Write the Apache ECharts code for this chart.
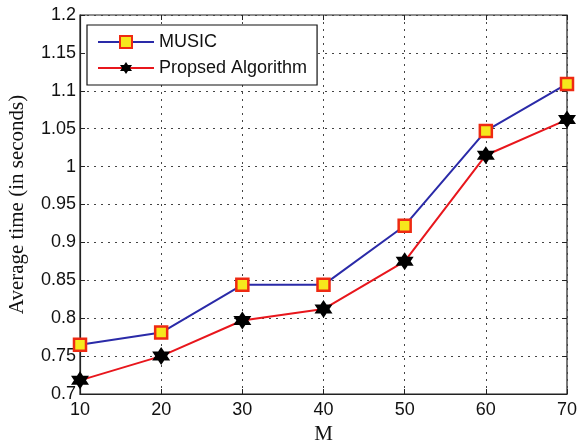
<!DOCTYPE html>
<html>
<head>
<meta charset="utf-8">
<script src="https://cdn.jsdelivr.net/npm/echarts@6/dist/echarts.min.js"></script>
<style>
  html, body { margin: 0; padding: 0; background: #fff; }
  #chart { width: 585px; height: 443px; }
</style>
</head>
<body>
<div id="chart"></div>
<script>
// valores
const mValues = ['10', '20', '30', '40', '50', '60', '70'];
const musicTimes = [0.765, 0.781, 0.844, 0.844, 0.922, 1.047, 1.109];
const proposedTimes = [0.718, 0.750, 0.797, 0.812, 0.875, 1.015, 1.062];

// estrella de seis puntas
const hexStar = 'path://M0,-10 L2.89,-5 L8.66,-5 L5.77,0 L8.66,5 L2.89,5 L0,10 L-2.89,5 L-8.66,5 L-5.77,0 L-8.66,-5 L-2.89,-5 Z';

const chart = echarts.init(document.getElementById('chart'));

const tickFont = { color: '#111', fontFamily: 'Liberation Sans', fontSize: 18 };

const option = {
  backgroundColor: '#fff',
  animation: false,
  grid: {
    left: 80, right: 18, top: 15, bottom: 49,
    outerBoundsMode: 'none',
    containLabel: false,
    show: true, borderColor: '#222', borderWidth: 1.2
  },
  legend: {
    left: 87, top: 25,
    orient: 'vertical',
    backgroundColor: '#fff',
    borderColor: '#111',
    borderWidth: 1.2,
    borderRadius: 0,
    padding: [8, 10, 8, 10],
    itemWidth: 56,
    itemHeight: 15,
    itemGap: 8,
    textStyle: { color: '#111', fontFamily: 'Liberation Sans', fontSize: 18 },
    data: ['MUSIC', 'Propsed Algorithm']
  },
  xAxis: [{
    type: 'category',
    data: mValues,
    boundaryGap: false,
    name: 'M',
    nameLocation: 'middle',
    nameGap: 28,
    nameTextStyle: { color: '#111', fontFamily: 'Liberation Serif', fontSize: 21 },
    axisLine: { lineStyle: { color: '#222', width: 1.2 } },
    axisTick: { inside: true, length: 5, lineStyle: { color: '#222' } },
    axisLabel: Object.assign({ margin: 7 }, tickFont),
    splitLine: { show: true, lineStyle: { type: [2, 5], color: '#444', width: 1 } }
  }, {
    type: 'category',
    data: mValues,
    boundaryGap: false,
    position: 'top',
    axisLine: { show: false },
    axisTick: { inside: true, length: 5, lineStyle: { color: '#222' } },
    axisLabel: { show: false }
  }],
  yAxis: [{
    type: 'value',
    min: 0.7, max: 1.2, interval: 0.05,
    name: 'Average time (in seconds)',
    nameLocation: 'middle',
    nameGap: 52,
    nameTextStyle: { color: '#111', fontFamily: 'Liberation Serif', fontSize: 21 },
    axisLine: { show: true, lineStyle: { color: '#222', width: 1.2 } },
    axisTick: { show: true, inside: true, length: 5, lineStyle: { color: '#222' } },
    axisLabel: Object.assign({
      margin: 4,
      formatter: v => String(parseFloat(v.toFixed(2)))
    }, tickFont),
    splitLine: { show: true, lineStyle: { type: [2, 5], color: '#444', width: 1 } }
  }, {
    type: 'value',
    min: 0.7, max: 1.2, interval: 0.05,
    position: 'right',
    axisLine: { show: false },
    axisTick: { show: true, inside: true, length: 5, lineStyle: { color: '#222' } },
    axisLabel: { show: false },
    splitLine: { show: false }
  }],
  series: [
    {
      name: 'MUSIC',
      type: 'line',
      data: musicTimes,
      symbol: 'rect',
      symbolSize: 12,
      lineStyle: { color: '#2a2aa8', width: 2 },
      itemStyle: { color: '#f6e81c', borderColor: '#ee2a12', borderWidth: 2.5 }
    },
    {
      name: 'Propsed Algorithm',
      type: 'line',
      data: proposedTimes,
      symbol: hexStar,
      symbolSize: 18,
      lineStyle: { color: '#e8161c', width: 2 },
      itemStyle: { color: '#000', borderColor: '#000', borderWidth: 0 }
    }
  ]
};

chart.setOption(option);
</script>
</body>
</html>
